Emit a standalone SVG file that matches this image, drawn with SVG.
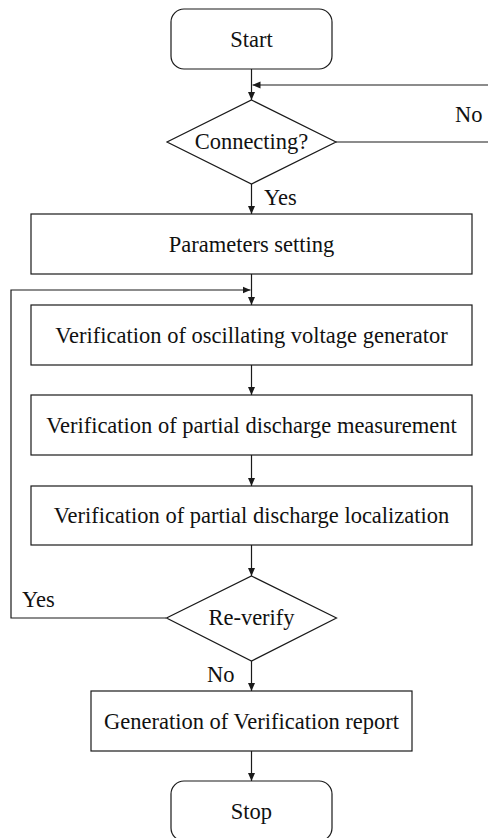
<svg xmlns="http://www.w3.org/2000/svg" width="488" height="838" viewBox="0 0 488 838">
<defs>
<marker id="ah" markerWidth="8" markerHeight="8" refX="8" refY="4" orient="auto" markerUnits="userSpaceOnUse">
<path d="M0,0.5 L8,4 L0,7.5 Z" fill="#1a1a1a"/>
</marker>
</defs>
<g id="connectors" fill="none" stroke="#1a1a1a" stroke-width="1.2">
<line x1="251.5" y1="69" x2="251.5" y2="100" marker-end="url(#ah)"/>
<line x1="488" y1="85" x2="252.5" y2="85" marker-end="url(#ah)"/>
<line x1="336" y1="142" x2="488" y2="142"/>
<line x1="251.5" y1="184" x2="251.5" y2="214" marker-end="url(#ah)"/>
<line x1="251.5" y1="274" x2="251.5" y2="305" marker-end="url(#ah)"/>
<polyline points="166,618 11,618 11,290 250.5,290" marker-end="url(#ah)"/>
<line x1="251.5" y1="365" x2="251.5" y2="395" marker-end="url(#ah)"/>
<line x1="251.5" y1="455" x2="251.5" y2="486" marker-end="url(#ah)"/>
<line x1="251.5" y1="545" x2="251.5" y2="576" marker-end="url(#ah)"/>
<line x1="251.5" y1="661" x2="251.5" y2="691" marker-end="url(#ah)"/>
<line x1="251.5" y1="751" x2="251.5" y2="781" marker-end="url(#ah)"/>
</g>
<g id="labels" font-family="Liberation Serif" font-size="22.5" fill="#111">
<text x="455" y="122">No</text>
<text x="264" y="205">Yes</text>
<text x="22" y="607">Yes</text>
<text x="207" y="682">No</text>
</g>
<g fill="#fff" stroke="#1a1a1a" stroke-width="1.2">
<g id="start"><rect x="171" y="9" width="161" height="60" rx="13"/></g>
<g id="connecting"><polygon points="251.5,100 336,142 251.5,184 167,142"/></g>
<g id="params"><rect x="31" y="214" width="441" height="60"/></g>
<g id="verif-osc"><rect x="31" y="305" width="441" height="60"/></g>
<g id="verif-meas"><rect x="31" y="395" width="441" height="60"/></g>
<g id="verif-loc"><rect x="31" y="486" width="441" height="59"/></g>
<g id="reverify"><polygon points="251.5,576 336.5,618 251.5,661 166.5,618"/></g>
<g id="report"><rect x="91" y="691" width="321" height="60"/></g>
<g id="stop"><rect x="171" y="781" width="161" height="60" rx="13"/></g>
</g>
<g id="node-texts" font-family="Liberation Serif" font-size="22.5" fill="#111" text-anchor="middle">
<text x="251.5" y="47">Start</text>
<text x="251.5" y="149">Connecting?</text>
<text x="251.5" y="252">Parameters setting</text>
<text x="251.5" y="343">Verification of oscillating voltage generator</text>
<text x="251.5" y="433">Verification of partial discharge measurement</text>
<text x="251.5" y="523">Verification of partial discharge localization</text>
<text x="251.5" y="625">Re-verify</text>
<text x="251.5" y="729">Generation of Verification report</text>
<text x="251.5" y="819">Stop</text>
</g>
</svg>
